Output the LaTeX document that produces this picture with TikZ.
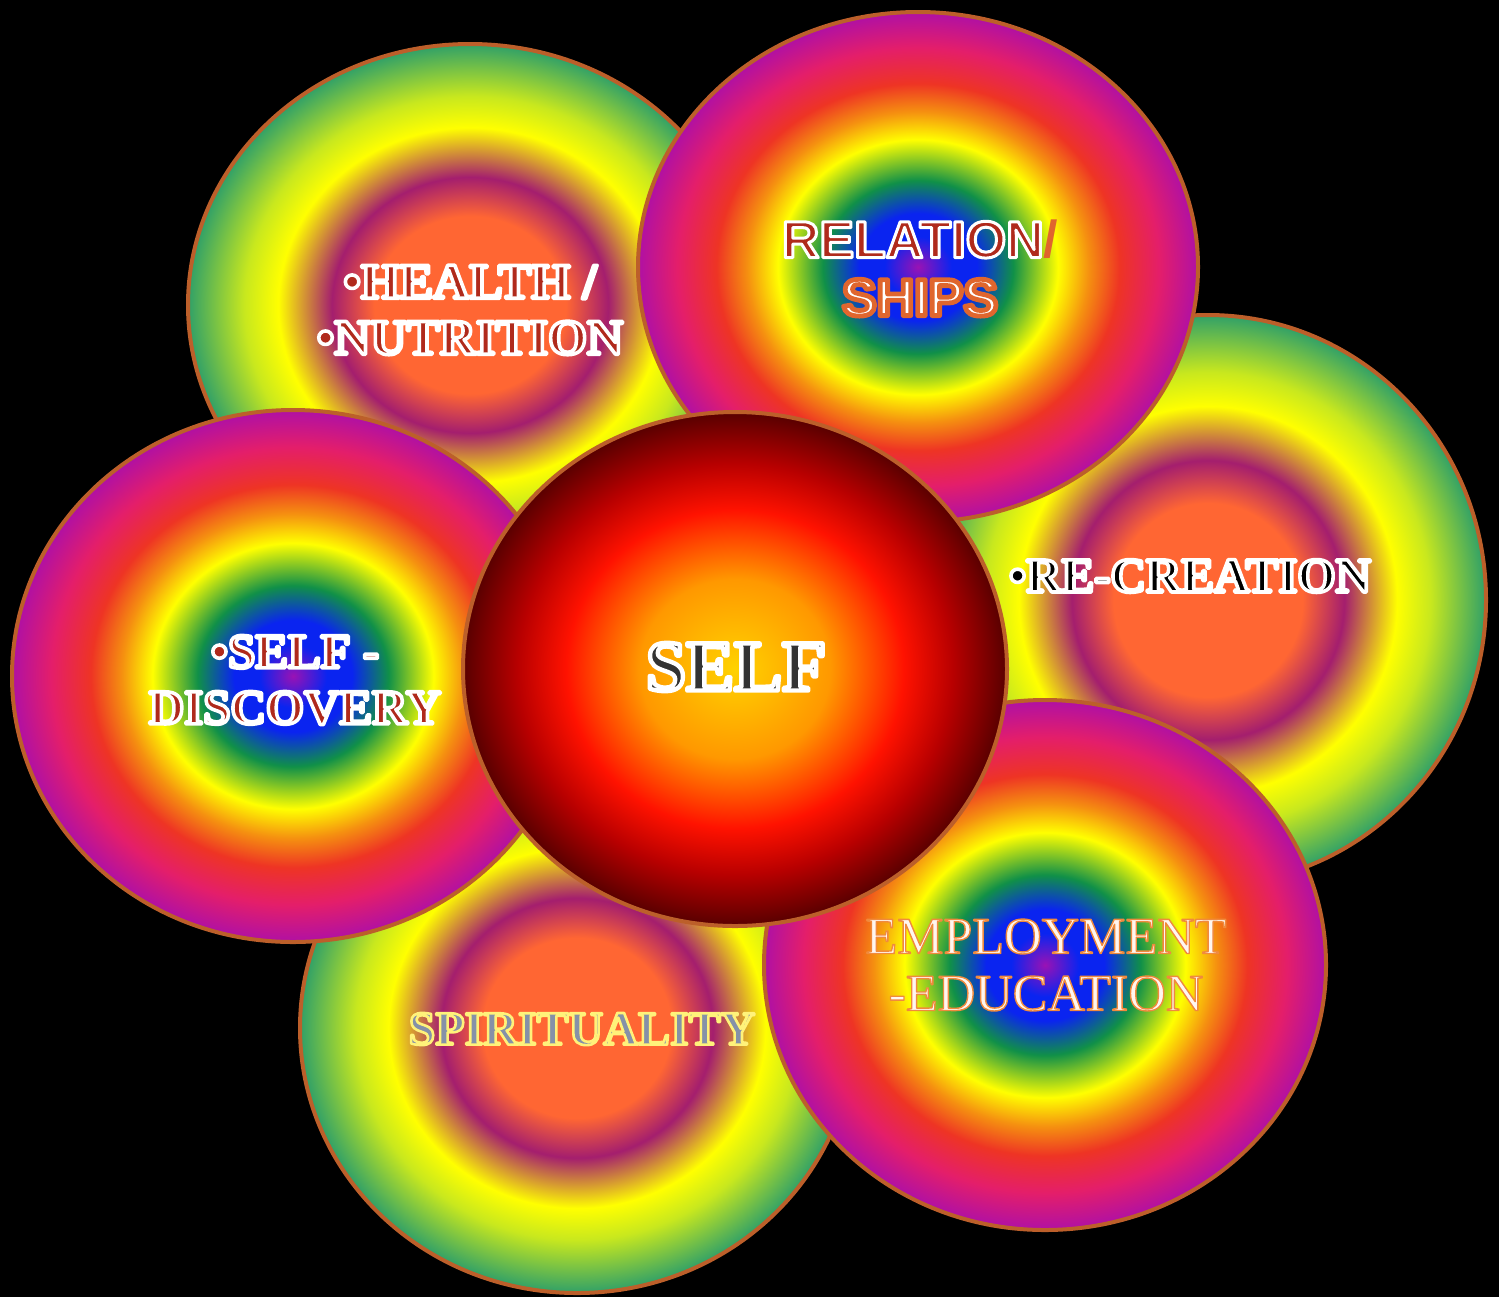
\documentclass[tikz,border=0pt]{standalone}
\usepackage{fontspec}
\setmainfont{Liberation Serif}
\newfontfamily\tagsans{Liberation Sans}
\usetikzlibrary{shapes.geometric}

\definecolor{petalRim}{HTML}{BC5F2A}
\definecolor{warmCore}{HTML}{FF6633}
\definecolor{warmPlum}{HTML}{A41E6E}
\definecolor{warmYellow}{HTML}{FFFF00}
\definecolor{warmLime}{HTML}{C8E81E}
\definecolor{warmGreen}{HTML}{30A068}
\definecolor{bowViolet}{HTML}{9A12B4}
\definecolor{bowBlue}{HTML}{0A24F0}
\definecolor{bowGreen}{HTML}{109048}
\definecolor{bowYellow}{HTML}{FFFF00}
\definecolor{bowOrange}{HTML}{F59010}
\definecolor{bowRed}{HTML}{EE3424}
\definecolor{bowPink}{HTML}{E41E6A}
\definecolor{bowPurple}{HTML}{B010A4}
\definecolor{coreGold}{HTML}{FFD200}
\definecolor{coreAmber}{HTML}{FF9800}
\definecolor{coreRed}{HTML}{FF1200}
\definecolor{coreCrimson}{HTML}{B80000}
\definecolor{coreDark}{HTML}{580000}
\definecolor{inkRed}{HTML}{B02A1C}
\definecolor{inkGrey}{HTML}{8591A8}
\definecolor{shipsOrange}{HTML}{E0652E}
\definecolor{paleWhite}{HTML}{FFF6F0}

\pgfdeclareradialshading{petalWarm}{\pgfpoint{0bp}{0bp}}{%
  color(0bp)=(warmCore); color(8.5bp)=(warmCore); color(12.25bp)=(warmPlum);
  color(17bp)=(warmYellow); color(20bp)=(warmLime); color(25bp)=(warmGreen);
  color(50bp)=(warmGreen)}
\pgfdeclareradialshading{petalBow}{\pgfpoint{0bp}{0bp}}{%
  color(0bp)=(bowViolet); color(3bp)=(bowBlue); color(5.25bp)=(bowBlue);
  color(8.5bp)=(bowGreen); color(12.5bp)=(bowYellow); color(15.25bp)=(bowOrange);
  color(18bp)=(bowRed); color(21.5bp)=(bowPink); color(25bp)=(bowPurple);
  color(50bp)=(bowPurple)}
\pgfdeclareradialshading{petalCore}{\pgfpoint{0bp}{0bp}}{%
  color(0bp)=(coreGold); color(8.75bp)=(coreAmber); color(15.5bp)=(coreRed);
  color(20bp)=(coreCrimson); color(25bp)=(coreDark); color(50bp)=(coreDark)}

% stroked glyph outlines: #1 rim rgb, #2 rim width (bp), #3 text
\newcommand{\rimmed}[3]{%
  \special{pdf:literal direct #1 RG #2 w 1 j 2 Tr}#3\special{pdf:literal direct 0 Tr}}

\tikzset{
  petal/.style={
    ellipse,
    draw=petalRim,
    line width=2pt,
    inner sep=0pt,
    outer sep=0pt
  },
  warm petal/.style={petal, shading=petalWarm},
  rainbow petal/.style={petal, shading=petalBow},
  core petal/.style={petal, shading=petalCore},
  tag/.style={
    inner sep=0pt,
    align=center
  }
}

\begin{document}
\begin{tikzpicture}[x=0.5pt,y=-0.5pt]
  \path[use as bounding box, fill=black] (0,0) rectangle (1499,1297);

  % petals, back to front
  \foreach \name/\x/\y/\rx/\ry/\kind in {
    health/470/305/282/261/warm petal,
    recreation/1208/600/278/285/warm petal,
    relations/918/267/280/255/rainbow petal,
    spirituality/577/1028/277/265/warm petal,
    discovery/293/676/281/266/rainbow petal,
    employment/1045/965/281/265/rainbow petal,
    self/735/669/272/257/core petal}{
    \node[\kind, minimum width=\rx pt, minimum height=\ry pt] (\name) at (\x,\y) {};
  }

  \node[tag, text=inkRed, font=\bfseries\fontsize{25}{28}\selectfont]
    (healthtag) at (470,310) {\rimmed{1 1 1}{1.8}{•HEALTH /}\\\rimmed{1 1 1}{1.8}{•NUTRITION}};
  \node[tag, text=inkRed, font=\tagsans\bfseries\fontsize{26}{29}\selectfont]
    (relationstag) at (920,268)
    {\rimmed{1 1 1}{1.5}{RELATION}{\color{shipsOrange}/}\\{\color{white}\rimmed{0.88 0.40 0.18}{2.4}{SHIPS}}};
  \node[tag, text=black, font=\bfseries\fontsize{24.5}{28}\selectfont]
    (recreationtag) at (1190,576) {\rimmed{1 1 1}{1.8}{•RE-CREATION}};
  \node[tag, text=inkRed, font=\bfseries\fontsize{24.5}{28}\selectfont]
    (discoverytag) at (295,680) {\rimmed{1 1 1}{1.8}{•SELF -}\\\rimmed{1 1 1}{1.8}{DISCOVERY}};
  \node[tag, text=black!80, font=\bfseries\fontsize{36}{40}\selectfont]
    (selftag) at (736,667) {\rimmed{1 1 1}{2.2}{SELF}};
  \node[tag, text=paleWhite, font=\fontsize{26}{28.5}\selectfont]
    (employmenttag) at (1046,965)
    {\rimmed{0.94 0.54 0.24}{0.7}{EMPLOYMENT}\\\rimmed{0.94 0.54 0.24}{0.7}{-EDUCATION}};
  \node[tag, text=inkGrey, font=\bfseries\fontsize{24}{26}\selectfont]
    (spiritualitytag) at (582,1029) {\rimmed{1 0.95 0.48}{1.3}{SPIRITUALITY}};
\end{tikzpicture}
\end{document}
